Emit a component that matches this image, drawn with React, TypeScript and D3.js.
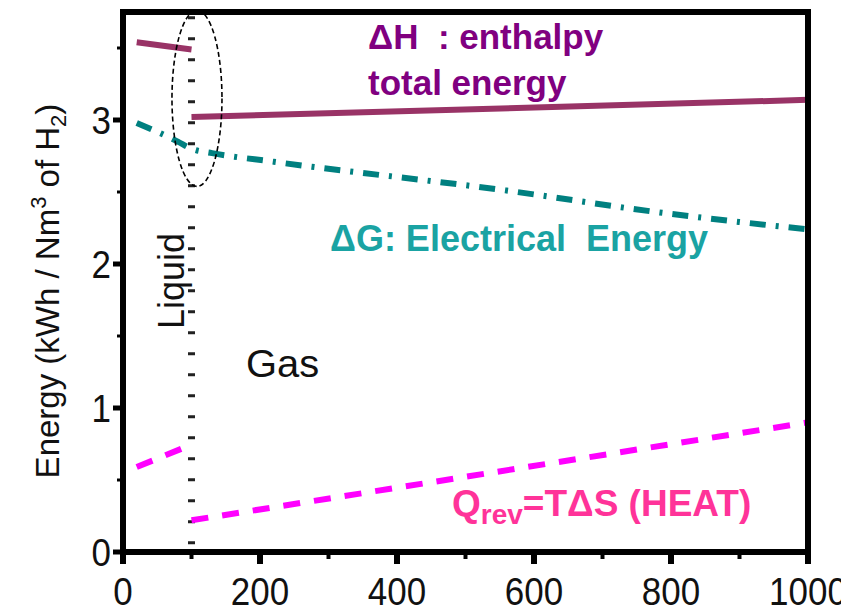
import React, { useEffect, useRef } from 'react'
import * as d3 from 'd3'

// temperature (°C) and energy (kWh / Nm3 of H2)
const xTicks = [0, 200, 400, 600, 800, 1000]
const xMinorTicks = [100, 300, 500, 700, 900]
const yTicks = [0, 1, 2, 3]
const yMinorTicks = [0.5, 1.5, 2.5, 3.5]

const enthalpyLiquidT = [20, 100]
const enthalpyLiquidE = [3.54, 3.49]
const enthalpyGasT = [100, 1000]
const enthalpyGasE = [3.02, 3.14]

const gibbsT = [20, 80, 100, 130, 220, 560, 780, 1000]
const gibbsE = [2.98, 2.85, 2.8, 2.77, 2.71, 2.51, 2.36, 2.24]

const heatLiquidT = [20, 92]
const heatLiquidE = [0.59, 0.73]
const heatGasT = [100, 1000]
const heatGasE = [0.22, 0.9]

const phaseChangeT = 100

const W = 841
const H = 613

export default function App() {
	const ref = useRef<SVGSVGElement>(null)

	useEffect(() => {
		document.body.style.margin = '0'
		const svg = d3.select(ref.current)
		svg.selectAll('*').remove()

		const x = d3.scaleLinear().domain([0, 1000]).range([123, 808])
		const y = d3.scaleLinear().domain([0, 3.75]).range([552, 12])
		const font = 'Arial, "Liberation Sans", sans-serif'

		const pts = (ts: number[], es: number[]) => ts.map((t, i) => [t, es[i]] as [number, number])
		const line = d3
			.line<[number, number]>()
			.x((d) => x(d[0]))
			.y((d) => y(d[1]))

		// phase change marker at 100 °C
		svg
			.append('line')
			.attr('x1', x(phaseChangeT))
			.attr('x2', x(phaseChangeT))
			.attr('y1', y(3.72))
			.attr('y2', y(0))
			.attr('stroke', '#222')
			.attr('stroke-width', 7)
			.attr('stroke-dasharray', '3 18')

		// enthalpy
		svg
			.append('path')
			.attr('d', line(pts(enthalpyLiquidT, enthalpyLiquidE)))
			.attr('fill', 'none')
			.attr('stroke', '#993366')
			.attr('stroke-width', 6)
		svg
			.append('path')
			.attr('d', line(pts(enthalpyGasT, enthalpyGasE)))
			.attr('fill', 'none')
			.attr('stroke', '#993366')
			.attr('stroke-width', 6)

		// gibbs energy
		svg
			.append('path')
			.attr('d', line.curve(d3.curveMonotoneX)(pts(gibbsT, gibbsE)))
			.attr('fill', 'none')
			.attr('stroke', '#008080')
			.attr('stroke-width', 6)
			.attr('stroke-dasharray', '16 10 3 10')
		line.curve(d3.curveLinear)

		// heat
		svg
			.append('path')
			.attr('d', line(pts(heatLiquidT, heatLiquidE)))
			.attr('fill', 'none')
			.attr('stroke', '#ff00ff')
			.attr('stroke-width', 6)
			.attr('stroke-dasharray', '17 14')
		svg
			.append('path')
			.attr('d', line(pts(heatGasT, heatGasE)))
			.attr('fill', 'none')
			.attr('stroke', '#ff00ff')
			.attr('stroke-width', 6)
			.attr('stroke-dasharray', '17 14')

		// dashed ellipse round the transition
		svg
			.append('ellipse')
			.attr('cx', x(108))
			.attr('cy', y(3.15))
			.attr('rx', 25)
			.attr('ry', 88)
			.attr('fill', 'none')
			.attr('stroke', '#000')
			.attr('stroke-width', 1.6)
			.attr('stroke-dasharray', '5 3')

		// frame
		svg
			.append('path')
			.attr('d', `M${x(0)},${y(0)}V${y(3.75)}H${x(1000)}V${y(0)}Z`)
			.attr('fill', 'none')
			.attr('stroke', '#000')
			.attr('stroke-width', 6)

		// y axis ticks
		svg
			.selectAll('.ytick')
			.data(yTicks)
			.join('line')
			.attr('x1', x(0) - 10)
			.attr('x2', x(0))
			.attr('y1', (d) => y(d))
			.attr('y2', (d) => y(d))
			.attr('stroke', '#000')
			.attr('stroke-width', 5)
		svg
			.selectAll('.yminor')
			.data(yMinorTicks)
			.join('line')
			.attr('x1', x(0) - 6)
			.attr('x2', x(0))
			.attr('y1', (d) => y(d))
			.attr('y2', (d) => y(d))
			.attr('stroke', '#000')
			.attr('stroke-width', 3)
		svg
			.selectAll('.ylabel')
			.data(yTicks)
			.join('text')
			.attr('transform', (d) => `translate(${x(0) - 12},${y(d)}) scale(1,1.12)`)
			.attr('dy', '0.36em')
			.attr('text-anchor', 'end')
			.attr('font-family', font)
			.attr('font-size', 35)
			.attr('fill', '#111')
			.text((d) => d)

		// x axis ticks
		svg
			.selectAll('.xtick')
			.data(xTicks)
			.join('line')
			.attr('x1', (d) => x(d))
			.attr('x2', (d) => x(d))
			.attr('y1', y(0))
			.attr('y2', y(0) + 12)
			.attr('stroke', '#000')
			.attr('stroke-width', 6)
		svg
			.selectAll('.xminor')
			.data(xMinorTicks)
			.join('line')
			.attr('x1', (d) => x(d))
			.attr('x2', (d) => x(d))
			.attr('y1', y(0))
			.attr('y2', y(0) + 7)
			.attr('stroke', '#000')
			.attr('stroke-width', 4)
		svg
			.selectAll('.xlabel')
			.data(xTicks)
			.join('text')
			.attr('transform', (d) => `translate(${x(d)},605) scale(1,1.12)`)
			.attr('text-anchor', 'middle')
			.attr('font-family', font)
			.attr('font-size', 35)
			.attr('fill', '#111')
			.text((d) => d)

		// y axis title
		const yt = svg
			.append('text')
			.attr('transform', 'translate(59,291) rotate(-90)')
			.attr('text-anchor', 'middle')
			.attr('font-family', font)
			.attr('font-size', 33)
			.attr('fill', '#111')
		yt.append('tspan').text('Energy (kWh / Nm')
		yt.append('tspan').attr('font-size', 22).attr('dy', -13).text('3')
		yt.append('tspan').attr('dy', 13).text(' of H')
		yt.append('tspan').attr('font-size', 22).attr('dy', 7).text('2')
		yt.append('tspan').attr('dy', -7).text(')')

		// annotations
		svg
			.append('text')
			.attr('transform', `translate(${x(phaseChangeT) - 8},281) rotate(-90)`)
			.attr('text-anchor', 'middle')
			.attr('font-family', font)
			.attr('font-size', 36)
			.attr('fill', '#111')
			.text('Liquid')
		svg
			.append('text')
			.attr('transform', 'translate(246,377) scale(1.05,1)')
			.attr('font-family', font)
			.attr('font-size', 38)
			.attr('fill', '#111')
			.text('Gas')

		const label = (tx: number, ty: number, size: number, color: string, s: string) =>
			svg
				.append('text')
				.attr('x', tx)
				.attr('y', ty)
				.attr('font-family', font)
				.attr('font-size', size)
				.attr('font-weight', 'bold')
				.attr('fill', color)
				.attr('xml:space', 'preserve')
				.text(s)

		label(368, 49, 35, '#800080', 'ΔH  : enthalpy')
		label(368, 95, 35, '#800080', 'total energy')
		label(330, 251, 36, '#1aa3a3', 'ΔG: Electrical  Energy')

		const q = label(452, 516, 37, '#ff3399', 'Q')
		q.append('tspan').attr('font-size', 28).attr('dy', 8).text('rev')
		q.append('tspan').attr('dy', -8).text('=TΔS (HEAT)')
	}, [])

	return <svg ref={ref} width={W} height={H} style={{ display: 'block', background: '#fff' }} />
}
